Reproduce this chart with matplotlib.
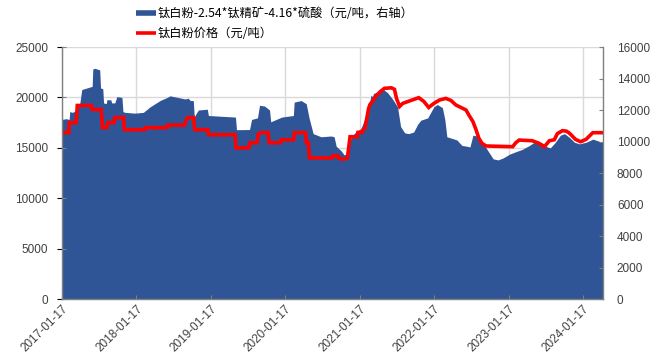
import matplotlib
matplotlib.use("Agg")
import matplotlib.pyplot as plt
import matplotlib.dates as mdates
from matplotlib.lines import Line2D
import pandas as pd

# 钛白粉-2.54*钛精矿-4.16*硫酸 (元/吨, right axis)
spread_dates = [
    "2017-01-17", "2017-02-06", "2017-02-21", "2017-02-24", "2017-03-10", "2017-03-30",
    "2017-04-14", "2017-04-24", "2017-06-01", "2017-06-14", "2017-06-17", "2017-06-26",
    "2017-07-21", "2017-07-25", "2017-08-05", "2017-08-09", "2017-08-22", "2017-08-25",
    "2017-09-13", "2017-09-18", "2017-10-03", "2017-10-13", "2017-11-07", "2017-11-12",
    "2017-11-22", "2018-01-10", "2018-02-20", "2018-03-25", "2018-05-13", "2018-06-17",
    "2018-07-01", "2018-09-13", "2018-09-28", "2018-10-08", "2018-10-23", "2018-10-28",
    "2018-11-07", "2018-11-17", "2018-12-31", "2019-01-05", "2019-05-18", "2019-05-23",
    "2019-07-26", "2019-08-05", "2019-09-03", "2019-09-13", "2019-10-08", "2019-11-01",
    "2019-11-07", "2019-12-31", "2020-02-26", "2020-03-01", "2020-04-04", "2020-04-29",
    "2020-05-13", "2020-06-02", "2020-07-11", "2020-08-29", "2020-09-13", "2020-09-23",
    "2020-10-18", "2020-11-01", "2020-11-17", "2020-11-26", "2020-12-06", "2020-12-31",
    "2021-01-22", "2021-02-06", "2021-02-21", "2021-03-03", "2021-03-13", "2021-03-20",
    "2021-03-25", "2021-04-19", "2021-05-13", "2021-06-02", "2021-06-26", "2021-07-21",
    "2021-08-05", "2021-08-25", "2021-09-13", "2021-10-08", "2021-10-28", "2021-11-12",
    "2021-12-16", "2022-01-15", "2022-02-01", "2022-02-26", "2022-03-10", "2022-03-20",
    "2022-04-14", "2022-05-08", "2022-06-02", "2022-06-26", "2022-07-11", "2022-07-26",
    "2022-08-15", "2022-08-29", "2022-09-18", "2022-10-08", "2022-11-02", "2022-11-26",
    "2022-12-20", "2023-01-22", "2023-02-21", "2023-03-25", "2023-04-29", "2023-05-28",
    "2023-07-01", "2023-07-26", "2023-08-10", "2023-09-03", "2023-09-28", "2023-10-18",
    "2023-11-12", "2023-12-06", "2023-12-31", "2024-02-01", "2024-03-05", "2024-04-09",
    "2024-04-24",
]
spread_values = [
    11400, 11450, 11400, 11900, 11850, 12000,
    12400, 13300, 13450, 13500, 14600, 14650,
    14550, 13400, 13350, 12450, 12400, 12650,
    12650, 12450, 12450, 12850, 12800, 11900,
    11850, 11800, 11850, 12200, 12600, 12800,
    12900, 12700, 12750, 12600, 12600, 11550,
    11800, 12000, 12050, 11650, 11550, 10750,
    10760, 11400, 11500, 12300, 12250, 12000,
    11250, 11550, 11650, 12500, 12600, 12400,
    11500, 10500, 10300, 10350, 10300, 9700,
    9400, 9150, 9250, 9800, 10300, 10650,
    10800, 11300, 11800, 12300, 12950, 12850,
    13050, 13150, 13300, 13100, 12700, 12200,
    10950, 10550, 10500, 10600, 11100, 11350,
    11500, 12200, 12350, 12150, 11400, 10300,
    10200, 10100, 9750, 9700, 9650, 10400,
    10350, 10050, 9800, 9400, 8900, 8830,
    8950, 9200, 9350, 9500, 9750, 10000,
    9900, 9650, 9600, 9950, 10400, 10500,
    10250, 9950, 9850, 9950, 10150, 10000,
    9950,
]

# 钛白粉价格 (元/吨, left axis)
price_dates = [
    "2017-01-17", "2017-02-19", "2017-02-22", "2017-03-28", "2017-04-02", "2017-06-10",
    "2017-06-14", "2017-07-28", "2017-08-04", "2017-08-26", "2017-08-29", "2017-09-30",
    "2017-10-03", "2017-11-15", "2017-11-19", "2018-02-27", "2018-03-02", "2018-06-15",
    "2018-06-18", "2018-09-10", "2018-09-15", "2018-09-25", "2018-10-25", "2018-10-30",
    "2019-01-02", "2019-01-06", "2019-05-16", "2019-05-20", "2019-07-23", "2019-07-27",
    "2019-09-01", "2019-09-05", "2019-09-18", "2019-10-26", "2019-10-30", "2019-12-24",
    "2019-12-28", "2020-02-27", "2020-03-02", "2020-04-26", "2020-04-30", "2020-05-10",
    "2020-05-15", "2020-09-04", "2020-09-08", "2020-09-30", "2020-10-03", "2020-10-28",
    "2020-11-17", "2020-11-30", "2021-01-05", "2021-01-08", "2021-01-28", "2021-02-01",
    "2021-02-11", "2021-03-01", "2021-03-08", "2021-03-20", "2021-04-09", "2021-04-29",
    "2021-05-18", "2021-06-21", "2021-07-06", "2021-07-16", "2021-07-31", "2021-08-15",
    "2021-09-18", "2021-11-02", "2021-11-27", "2021-12-21", "2022-01-15", "2022-02-12",
    "2022-03-15", "2022-04-09", "2022-05-03", "2022-05-28", "2022-06-22", "2022-07-06",
    "2022-07-26", "2022-08-10", "2022-08-24", "2022-09-08", "2022-09-28", "2023-02-06",
    "2023-02-21", "2023-03-10", "2023-05-13", "2023-06-15", "2023-07-11", "2023-08-05",
    "2023-08-29", "2023-09-13", "2023-10-08", "2023-10-28", "2023-11-12", "2023-12-11",
    "2024-01-05", "2024-02-01", "2024-03-05", "2024-04-24",
]
price_values = [
    16500, 16500, 17500, 17500, 19200, 19200,
    18800, 18800, 17000, 17000, 17500, 17500,
    18000, 18000, 16800, 16800, 17000, 17000,
    17250, 17250, 17600, 18000, 18000, 16800,
    16800, 16300, 16300, 15000, 15000, 15500,
    15500, 16300, 16500, 16500, 15500, 15500,
    15800, 15800, 16500, 16500, 15500, 15500,
    14000, 14000, 14220, 14220, 14000, 13850,
    14000, 16100, 16100, 16530, 16530, 16770,
    16900, 18900, 19300, 19600, 20200, 20600,
    20900, 20950, 20800, 19900, 19100, 19400,
    19650, 19970, 19600, 19000, 19400, 19740,
    19900, 19700, 19250, 19000, 18750, 18250,
    17600, 16800, 15950, 15450, 15180, 15110,
    15500, 15770, 15700, 15450, 15100, 15700,
    15800, 16400, 16700, 16650, 16440, 15840,
    15600, 15840, 16500, 16500,
]

x_ticks = ["2017-01-17", "2018-01-17", "2019-01-17", "2020-01-17",
           "2021-01-17", "2022-01-17", "2023-01-17", "2024-01-17"]
left_ticks = [0, 5000, 10000, 15000, 20000, 25000]
right_ticks = [0, 2000, 4000, 6000, 8000, 10000, 12000, 14000, 16000]

spread_label = "钛白粉-2.54*钛精矿-4.16*硫酸（元/吨，右轴）"
price_label = "钛白粉价格（元/吨）"

BLUE = "#2F5597"
RED = "#FF0000"
GRID = "#D9D9D9"
SPINE = "#7F7F7F"
TICK_FONT = ["Liberation Sans", "DejaVu Sans"]
CJK_FONT = ["Noto Sans CJK SC", "DejaVu Sans"]

plt.rcParams["font.family"] = CJK_FONT

sd = pd.to_datetime(spread_dates)
pdates = pd.to_datetime(price_dates)
xt = pd.to_datetime(x_ticks)
x_lo = pd.Timestamp("2017-01-17")
x_hi = pd.Timestamp("2024-04-24")

fig = plt.figure(figsize=(6.58, 3.60), dpi=100)
rect = [62 / 658, 1 - 299 / 360, (603 - 62) / 658, (299 - 47) / 360]

# bottom layer: grid on the left-axis scale
ax_grid = fig.add_axes(rect)
ax_grid.set_xlim(x_lo, x_hi)
ax_grid.set_ylim(0, 25000)
ax_grid.set_xticks(xt)
ax_grid.set_yticks(left_ticks)
ax_grid.grid(True, color=GRID, linewidth=1.0)
ax_grid.tick_params(left=False, bottom=False, labelleft=False, labelbottom=False)
for s in ax_grid.spines.values():
    s.set_visible(False)

# middle layer: spread area on the right axis
ax_area = ax_grid.twinx()
ax_area.fill_between(sd, 0, spread_values, color=BLUE, linewidth=0)
ax_area.set_ylim(0, 16000)
ax_area.set_yticks(right_ticks)
ax_area.tick_params(axis="y", direction="in", length=3, color=SPINE, pad=10,
                    labelsize=8.5, labelcolor="#404040")
for lab in ax_area.get_yticklabels():
    lab.set_family(TICK_FONT)
for s in ax_area.spines.values():
    s.set_visible(False)

# top layer: price line, left axis, date axis and frame
ax_top = fig.add_axes(rect, sharex=ax_grid, sharey=ax_grid)
ax_top.patch.set_visible(False)
ax_top.plot(pdates, price_values, color=RED, linewidth=2.6, solid_joinstyle="miter")
ax_top.set_xlim(x_lo, x_hi)
ax_top.set_ylim(0, 25000)
ax_top.set_xticks(xt)
ax_top.xaxis.set_major_formatter(mdates.DateFormatter("%Y-%m-%d"))
ax_top.set_yticks(left_ticks)
ax_top.tick_params(axis="y", direction="in", length=3, color=SPINE, pad=10,
                   labelsize=8.5, labelcolor="#404040")
ax_top.tick_params(axis="x", direction="in", length=3, color=SPINE, pad=3,
                   labelsize=8.5, labelcolor="#404040")
for lab in ax_top.get_xticklabels():
    lab.set_rotation(45)
    lab.set_ha("right")
    lab.set_va("top")
    lab.set_rotation_mode("anchor")
    lab.set_family(TICK_FONT)
for lab in ax_top.get_yticklabels():
    lab.set_family(TICK_FONT)
ax_top.spines["top"].set_visible(False)
for side in ("left", "right", "bottom"):
    ax_top.spines[side].set_color(SPINE)
    ax_top.spines[side].set_linewidth(1.0)
ax_top.set_zorder(ax_area.get_zorder() + 1)

handles = [
    Line2D([0], [0], color=BLUE, linewidth=4, solid_capstyle="butt"),
    Line2D([0], [0], color=RED, linewidth=2.6, solid_capstyle="butt"),
]
fig.legend(handles, [spread_label, price_label],
           loc="upper left", bbox_to_anchor=(136 / 658, 1 - 7 / 360),
           frameon=False, handlelength=1.6, handletextpad=0.15,
           labelspacing=0.6, borderpad=0, borderaxespad=0,
           prop={"family": CJK_FONT, "size": 8.8})

fig.savefig("out.png", dpi=100)
